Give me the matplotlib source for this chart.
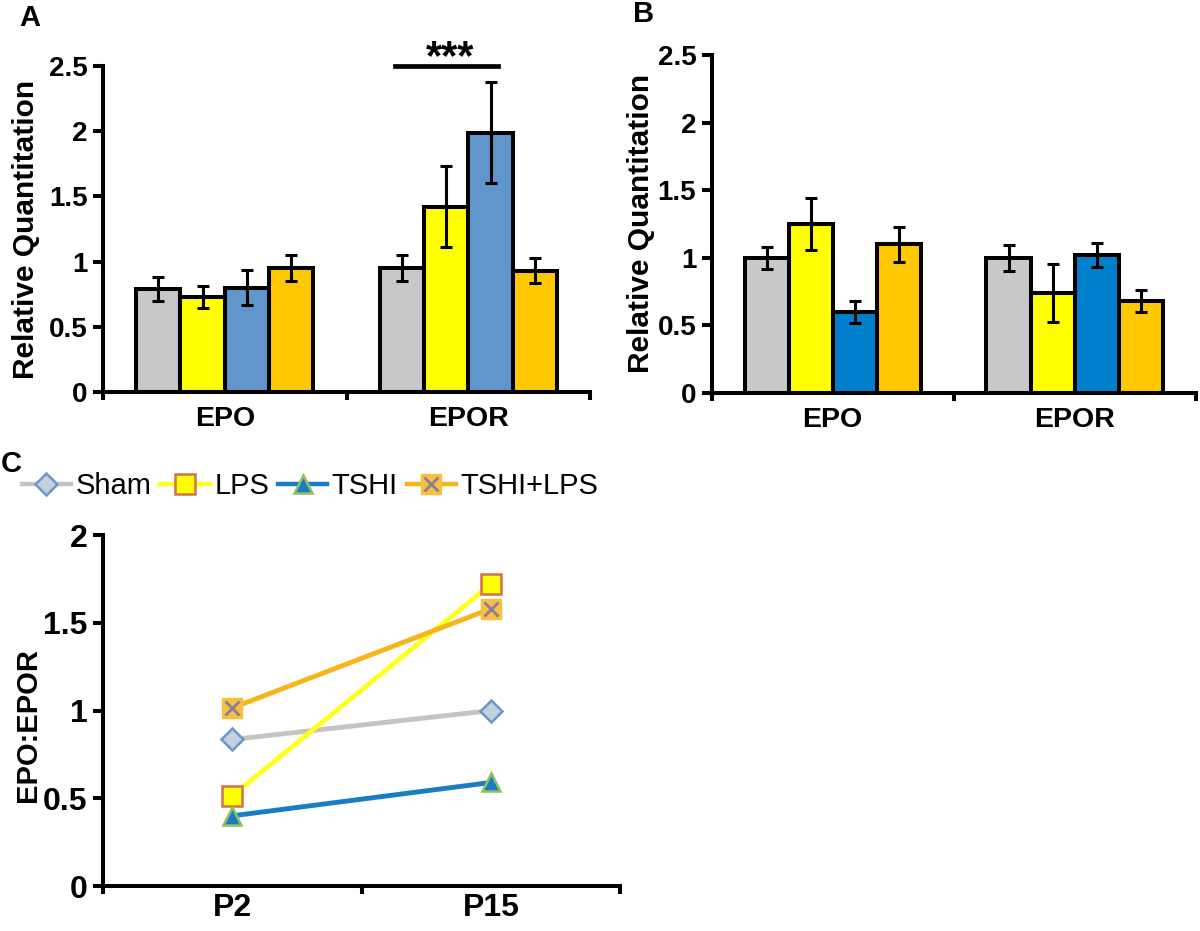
import numpy as np
import matplotlib
matplotlib.use("Agg")
import matplotlib.pyplot as plt
from matplotlib.lines import Line2D

plt.rcParams['font.family'] = ['Liberation Sans', 'DejaVu Sans']

# data
genes = ['EPO', 'EPOR']
groups = ['Sham', 'LPS', 'TSHI', 'TSHI+LPS']

a_mean = {'Sham': [0.79, 0.95], 'LPS': [0.73, 1.42], 'TSHI': [0.80, 1.99], 'TSHI+LPS': [0.95, 0.93]}
a_err = {'Sham': [0.09, 0.10], 'LPS': [0.085, 0.31], 'TSHI': [0.135, 0.385], 'TSHI+LPS': [0.10, 0.095]}

b_mean = {'Sham': [1.00, 1.00], 'LPS': [1.25, 0.74], 'TSHI': [0.60, 1.02], 'TSHI+LPS': [1.10, 0.68]}
b_err = {'Sham': [0.08, 0.095], 'LPS': [0.19, 0.215], 'TSHI': [0.08, 0.09], 'TSHI+LPS': [0.13, 0.08]}

ages = ['P2', 'P15']
ratio = {'Sham': [0.835, 1.00], 'LPS': [0.515, 1.72], 'TSHI': [0.40, 0.59], 'TSHI+LPS': [1.015, 1.58]}

a_colors = {'Sham': '#C8C8C8', 'LPS': '#FFFF00', 'TSHI': '#6096CB', 'TSHI+LPS': '#FFC800'}
b_colors = {'Sham': '#C8C8C8', 'LPS': '#FFFF00', 'TSHI': '#0080CC', 'TSHI+LPS': '#FFC800'}

fig = plt.figure(figsize=(12, 9.31), dpi=100)

LW = 2.9


def style_axes(ax, ymax, ystep, tickfs, catfs, catpad):
    for s in ['top', 'right']:
        ax.spines[s].set_visible(False)
    ax.spines['left'].set_linewidth(LW)
    ax.spines['bottom'].set_linewidth(LW)
    yt = np.arange(0, ymax + 1e-9, ystep)
    ax.set_yticks(yt)
    ax.set_yticklabels(['%g' % v for v in yt], fontsize=tickfs, fontweight='bold')
    ax.set_ylim(0, ymax)
    ax.set_xlim(-0.5, 1.5)
    ax.set_xticks([-0.5, 0.5, 1.5])
    ax.set_xticklabels([])
    ax.set_xticks([0, 1], minor=True)
    ax.tick_params(axis='y', width=LW, length=7, direction='out', pad=4)
    ax.tick_params(axis='x', which='major', width=LW, length=6, direction='out')
    ax.tick_params(axis='x', which='minor', length=0, pad=catpad, labelsize=catfs)


def bar_panel(ax, means, errs, colors, label_x):
    w = 0.182
    x = np.arange(len(genes))
    for i, g in enumerate(groups):
        ax.bar(x + (i - 1.5) * w, means[g], w, yerr=errs[g], color=colors[g],
               edgecolor='black', linewidth=LW, capsize=4,
               error_kw=dict(elinewidth=2.2, capthick=2.2, ecolor='black'), zorder=2)
    style_axes(ax, 2.5, 0.5, 20, 20.5, 10)
    ax.set_xticklabels(genes, minor=True, fontweight='bold')
    ax.set_ylabel('Relative Quantitation', fontsize=21.5, fontweight='bold')
    ax.yaxis.set_label_coords(label_x, 0.5)


axA = fig.add_axes([0.0858, 0.579, 0.406, 0.350])
bar_panel(axA, a_mean, a_err, a_colors, -0.129)
axA.plot([0.70, 1.12], [2.5, 2.5], color='black', lw=3.4, clip_on=False)
axA.text(0.925, 2.475, '***', ha='center', va='baseline', fontsize=30, fontweight='bold')

axB = fig.add_axes([0.593, 0.578, 0.4033, 0.363])
bar_panel(axB, b_mean, b_err, b_colors, -0.116)

# panel C
axC = fig.add_axes([0.0858, 0.0483, 0.431, 0.377])
line_c = {'Sham': '#C4C4C4', 'LPS': '#FFFF20', 'TSHI': '#1A7DC4', 'TSHI+LPS': '#F7B51C'}
mk = {'Sham': dict(marker='D', markersize=11, markerfacecolor='#C5D0DC', markeredgecolor='#6A98CC', markeredgewidth=1.8),
      'LPS': dict(marker='s', markersize=14, markerfacecolor='#FFFF00', markeredgecolor='#D4704A', markeredgewidth=1.8),
      'TSHI': dict(marker='^', markersize=13, markerfacecolor='#1A7DC4', markeredgecolor='#8DC060', markeredgewidth=1.8),
      'TSHI+LPS': dict(marker='s', markersize=14, markerfacecolor='#F8C040', markeredgecolor='#F8C040', markeredgewidth=1)}
xmark = dict(ls='none', marker='x', markersize=10, markeredgecolor='#8A7E9A', markeredgewidth=2)
xc = np.arange(len(ages))
handles = []
for g in groups:
    axC.plot(xc, ratio[g], color=line_c[g], lw=3.5, zorder=3, clip_on=False, **mk[g])
    h = Line2D([], [], color=line_c[g], lw=3.2, **mk[g])
    if g == 'TSHI+LPS':
        axC.plot(xc, ratio[g], zorder=4, **xmark)
        h = (h, Line2D([], [], **xmark))
    handles.append(h)

style_axes(axC, 2.0, 0.5, 23, 23, 5)
axC.set_xticklabels(ages, minor=True, fontweight='bold')
axC.set_ylabel('EPO:EPOR', fontsize=21, fontweight='bold')
axC.yaxis.set_label_coords(-0.118, 0.46)

fig.legend(handles, groups, loc='center left', bbox_to_anchor=(0.018, 0.478), ncol=4, frameon=False,
           fontsize=21, handlelength=1.7, handletextpad=0.15, columnspacing=0.3,
           borderaxespad=0, borderpad=0)

fig.text(0.025, 0.981, 'A', fontsize=21, fontweight='bold', va='center', ha='center')
fig.text(0.536, 0.985, 'B', fontsize=21, fontweight='bold', va='center', ha='center')
fig.text(0.009, 0.502, 'C', fontsize=21, fontweight='bold', va='center', ha='center')

fig.savefig('out.png', dpi=100)
